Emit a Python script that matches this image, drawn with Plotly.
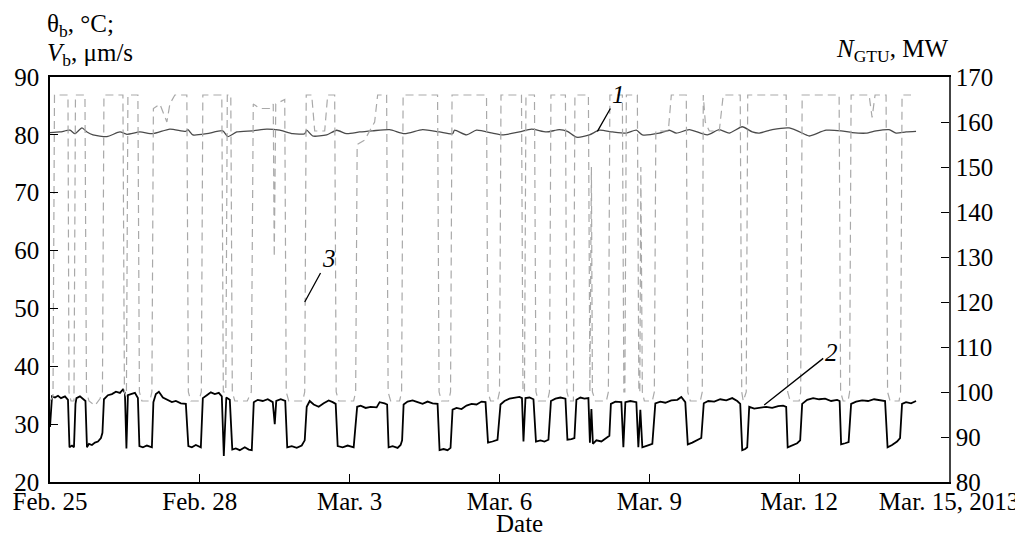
import numpy as np
import pandas as pd
import plotly.graph_objects as go

BASE = pd.Timestamp("2013-02-25")

# ---- Data (days since Feb 25, 2013 00:00, value) ----
theta_points = [
    (0.00, 80.4), (0.20, 80.5), (0.40, 80.8), (0.50, 80.2), (0.64, 81.2), (0.74, 80.5),
    (0.86, 80.0), (1.14, 79.7), (1.40, 80.5), (1.54, 80.1), (1.80, 80.5), (2.06, 80.2),
    (2.40, 81.0), (2.72, 80.6), (2.76, 80.9), (2.86, 80.0), (3.14, 80.2), (3.46, 80.7),
    (3.56, 79.7), (3.74, 80.5), (4.06, 80.7), (4.34, 81.0), (4.60, 80.8), (4.86, 80.2),
    (5.10, 80.2), (5.14, 80.8), (5.26, 79.8), (5.54, 80.0), (5.74, 80.8), (5.94, 80.2),
    (6.20, 80.5), (6.46, 80.7), (6.80, 80.9), (7.10, 80.2), (7.46, 80.9), (7.80, 80.5),
    (8.06, 80.2), (8.10, 80.8), (8.34, 80.0), (8.54, 80.8), (8.86, 80.3), (9.06, 80.0),
    (9.40, 80.5), (9.64, 81.0), (9.94, 80.5), (10.20, 80.9), (10.36, 80.6), (10.54, 79.6),
    (10.80, 80.0), (11.00, 80.8), (11.26, 80.5), (11.54, 80.3), (11.74, 80.8), (11.86, 80.0),
    (12.20, 80.3), (12.40, 80.8), (12.54, 80.3), (12.80, 80.9), (13.16, 80.0), (13.40, 80.9),
    (13.60, 80.3), (13.86, 81.4), (14.06, 80.5), (14.20, 80.3), (14.46, 80.9), (14.80, 81.2),
    (15.14, 80.0), (15.20, 79.8), (15.54, 80.8), (15.84, 80.7), (16.06, 80.4), (16.34, 80.3),
    (16.54, 80.7), (16.80, 80.9), (16.94, 80.3), (17.14, 80.5), (17.34, 80.6),
]

vb_points = [
    (0.00, 29.5), (0.02, 33.0), (0.04, 34.8), (0.10, 34.6), (0.16, 34.9), (0.22, 34.5), (0.30, 34.8), (0.36, 34.2),
    (0.39, 26.0), (0.44, 26.3), (0.48, 26.0), (0.51, 33.5), (0.53, 34.5), (0.60, 34.8), (0.66, 34.4), (0.71, 34.0),
    (0.74, 26.0), (0.78, 26.6), (0.84, 26.4), (0.90, 26.8), (0.96, 27.0), (1.02, 27.6), (1.05, 28.5), (1.08, 34.3),
    (1.16, 35.0), (1.24, 35.2), (1.32, 35.6), (1.40, 35.4), (1.46, 36.0), (1.50, 35.4),
    (1.53, 25.8), (1.56, 35.0), (1.62, 35.2), (1.70, 35.4), (1.76, 34.5),
    (1.79, 26.2), (1.86, 26.0), (1.94, 26.3), (2.04, 26.0), (2.07, 33.8), (2.12, 35.2), (2.18, 35.6), (2.26, 34.6),
    (2.34, 34.2), (2.44, 33.8), (2.52, 34.0), (2.62, 33.6), (2.72, 33.5),
    (2.77, 26.2), (2.84, 26.0), (2.92, 26.4), (3.02, 26.0), (3.06, 34.5), (3.14, 35.0), (3.22, 35.5), (3.30, 35.2),
    (3.38, 35.4), (3.44, 34.8),
    (3.48, 24.5), (3.53, 34.6), (3.60, 34.2),
    (3.65, 25.6), (3.72, 25.8), (3.80, 25.5), (3.90, 26.0), (3.98, 25.6), (4.04, 25.5), (4.08, 33.8), (4.16, 34.2),
    (4.26, 34.0), (4.36, 34.3), (4.46, 33.8),
    (4.50, 30.0), (4.53, 34.0), (4.62, 34.3), (4.71, 34.0),
    (4.75, 26.0), (4.84, 26.2), (4.94, 25.9), (5.04, 26.3), (5.10, 27.2), (5.14, 33.0), (5.20, 34.0), (5.28, 33.4),
    (5.38, 33.0), (5.48, 33.6), (5.58, 34.1), (5.66, 33.8), (5.72, 33.5),
    (5.76, 26.2), (5.86, 26.0), (5.96, 26.3), (6.08, 26.0), (6.15, 33.0), (6.22, 33.2), (6.32, 32.8), (6.42, 33.0),
    (6.54, 32.9), (6.60, 33.8), (6.70, 33.6), (6.75, 33.4),
    (6.78, 26.0), (6.86, 26.2), (6.96, 25.9), (7.02, 26.4), (7.05, 27.2), (7.08, 33.4), (7.16, 33.9), (7.26, 34.1),
    (7.36, 33.8), (7.46, 33.5), (7.56, 33.9), (7.66, 33.6), (7.76, 33.5),
    (7.80, 25.5), (7.88, 25.7), (7.96, 25.5), (8.02, 25.9), (8.06, 32.5), (8.14, 32.8), (8.24, 32.6), (8.34, 33.2),
    (8.44, 33.5), (8.54, 33.4), (8.64, 33.9), (8.72, 33.8),
    (8.77, 26.8), (8.86, 27.0), (8.96, 27.3), (9.02, 33.4), (9.10, 34.0), (9.20, 34.4), (9.30, 34.5), (9.40, 34.7),
    (9.45, 34.5),
    (9.48, 27.0), (9.52, 34.5), (9.60, 34.6), (9.68, 34.3),
    (9.73, 27.0), (9.82, 27.2), (9.90, 27.0), (9.98, 27.3), (10.03, 34.0), (10.12, 34.4), (10.22, 34.6), (10.32, 34.4),
    (10.36, 27.3), (10.44, 27.4), (10.50, 27.6), (10.54, 34.2), (10.62, 34.6), (10.70, 34.4), (10.78, 34.5),
    (10.81, 26.8), (10.84, 32.6), (10.87, 26.6), (10.94, 27.2), (11.04, 27.0), (11.14, 27.6), (11.20, 28.0),
    (11.23, 33.5), (11.32, 33.9), (11.44, 33.8),
    (11.48, 26.0), (11.52, 33.8), (11.62, 34.0), (11.74, 33.8),
    (11.78, 26.0), (11.82, 32.5), (11.86, 26.0), (11.96, 26.3), (12.06, 26.6), (12.12, 33.6), (12.22, 33.9),
    (12.32, 33.7), (12.44, 34.1), (12.56, 34.2), (12.64, 34.7), (12.72, 33.8),
    (12.77, 26.5), (12.86, 26.8), (12.96, 27.2), (13.04, 27.6), (13.09, 33.6), (13.18, 34.0), (13.30, 33.9),
    (13.42, 34.3), (13.54, 34.1), (13.66, 34.5), (13.76, 34.0), (13.82, 33.5),
    (13.86, 25.5), (13.92, 25.7), (13.96, 26.0), (14.00, 33.0), (14.10, 32.7), (14.22, 32.9), (14.34, 33.0),
    (14.46, 32.8), (14.58, 33.1), (14.68, 33.2), (14.74, 33.0),
    (14.77, 26.0), (14.86, 26.3), (14.96, 26.7), (15.02, 27.2), (15.06, 33.5), (15.16, 34.2), (15.28, 34.5),
    (15.40, 34.3), (15.52, 34.4), (15.64, 34.0), (15.76, 34.2), (15.81, 34.0),
    (15.84, 26.5), (15.92, 26.7), (15.99, 26.9), (16.04, 33.5), (16.14, 33.9), (16.26, 34.1), (16.38, 34.0),
    (16.50, 34.3), (16.62, 34.1), (16.72, 34.0),
    (16.77, 26.0), (16.86, 26.4), (16.96, 27.0), (17.02, 27.6), (17.06, 33.5), (17.14, 33.8), (17.24, 33.6),
    (17.34, 34.0),
]

ngtu_points = [
    (0.00, 98), (0.06, 99), (0.09, 166), (0.36, 166), (0.38, 100), (0.42, 98), (0.48, 98), (0.51, 166),
    (0.70, 166), (0.73, 100), (0.78, 98), (0.90, 97), (1.00, 98.5), (1.05, 100), (1.08, 166),
    (1.46, 166), (1.49, 100), (1.53, 99), (1.56, 166), (1.76, 166), (1.79, 100), (1.84, 98), (2.00, 98),
    (2.04, 100), (2.07, 163), (2.20, 164), (2.34, 160), (2.40, 164), (2.50, 166), (2.74, 166),
    (2.77, 100), (2.82, 98), (2.98, 98), (3.03, 100), (3.06, 166), (3.44, 166), (3.47, 100), (3.52, 100),
    (3.55, 166), (3.62, 166), (3.65, 100), (3.70, 98), (3.95, 98), (4.03, 100), (4.07, 164), (4.20, 163),
    (4.40, 163), (4.47, 164), (4.49, 130), (4.52, 164), (4.70, 165), (4.73, 100), (4.78, 98), (5.06, 98),
    (5.10, 100), (5.13, 166), (5.24, 166), (5.30, 158), (5.50, 158), (5.56, 166), (5.70, 166),
    (5.73, 100), (5.78, 98), (6.08, 98), (6.12, 100), (6.15, 155), (6.30, 156), (6.50, 160), (6.56, 166),
    (6.74, 166), (6.77, 100), (6.82, 98), (7.00, 98), (7.04, 100), (7.07, 166), (7.76, 166), (7.79, 100),
    (7.84, 98), (7.98, 98), (8.02, 100), (8.05, 166), (8.74, 166), (8.77, 100), (8.82, 98), (8.96, 98),
    (9.00, 100), (9.03, 166), (9.44, 166), (9.47, 100), (9.50, 100), (9.53, 166), (9.70, 166), (9.73, 100),
    (9.78, 98), (9.96, 98), (10.00, 100), (10.03, 166), (10.32, 166), (10.35, 100), (10.40, 98),
    (10.48, 98), (10.51, 166), (10.78, 166), (10.81, 100), (10.84, 150), (10.86, 100), (10.92, 98),
    (11.14, 98), (11.18, 100), (11.21, 166), (11.46, 166), (11.49, 100), (11.51, 100), (11.54, 166),
    (11.76, 166), (11.79, 100), (11.81, 100), (11.83, 150), (11.86, 100), (11.90, 98), (12.06, 98),
    (12.10, 100), (12.13, 158), (12.38, 158), (12.44, 166), (12.74, 166), (12.77, 100), (12.82, 98),
    (13.02, 98), (13.06, 100), (13.08, 166), (13.12, 160), (13.20, 158), (13.40, 158), (13.48, 166),
    (13.82, 166), (13.85, 100), (13.88, 98), (13.94, 100), (13.97, 166), (14.74, 166), (14.77, 100),
    (14.82, 98), (15.00, 98), (15.03, 100), (15.06, 166), (15.80, 166), (15.83, 100), (15.88, 98),
    (15.98, 98), (16.01, 100), (16.04, 166), (16.40, 166), (16.46, 161), (16.52, 166), (16.74, 166),
    (16.77, 100), (16.82, 98), (17.00, 98), (17.03, 100), (17.06, 166), (17.24, 166),
]

tick_days = [0, 3, 6, 9, 12, 15, 18]
tick_labels = ["Feb. 25", "Feb. 28", "Mar. 3", "Mar. 6", "Mar. 9", "Mar. 12", "Mar. 15, 2013"]


def to_xy(points):
    d, v = zip(*points)
    return BASE + pd.to_timedelta(np.array(d), unit="D"), list(v)


FONT = "Liberation Serif, Times New Roman, serif"
FS = 25

tx, ty = to_xy(theta_points)
vx, vy = to_xy(vb_points)
nx, ny = to_xy(ngtu_points)

fig = go.Figure()
fig.add_trace(go.Scatter(x=nx, y=ny, mode="lines", yaxis="y2",
                         line=dict(color="#a9a9a9", width=1.2, dash="8px,5px")))
fig.add_trace(go.Scatter(x=tx, y=ty, mode="lines",
                         line=dict(color="#4a4a4a", width=1.3, shape="spline", smoothing=0.6)))
fig.add_trace(go.Scatter(x=vx, y=vy, mode="lines",
                         line=dict(color="#000000", width=1.8)))

tickvals = [BASE + pd.Timedelta(days=d) for d in tick_days]

# page body has an 8px default margin: figure placed at (8, 8)
fig.update_layout(
    width=1015, height=533,
    margin=dict(l=42, r=74, t=69, b=59),
    paper_bgcolor="white", plot_bgcolor="white",
    showlegend=False,
    font=dict(family=FONT, size=FS, color="black"),
    xaxis=dict(
        range=[BASE, BASE + pd.Timedelta(days=18)],
        tickvals=tickvals, ticktext=tick_labels,
        ticks="inside", ticklen=8, tickwidth=1.2, tickcolor="black",
        showline=True, linecolor="black", linewidth=1.5, mirror=True,
        showgrid=False, zeroline=False, automargin=False,
        tickfont=dict(family=FONT, size=FS), ticklabelstandoff=-4,
        ticklabeloverflow="allow",
    ),
    yaxis=dict(
        range=[20, 90], dtick=10, tick0=20,
        ticks="inside", ticklen=8, tickwidth=1.2, tickcolor="black",
        showline=True, linecolor="black", linewidth=1.5, mirror=True,
        showgrid=False, zeroline=False, automargin=False,
        tickfont=dict(family=FONT, size=FS), ticklabeloverflow="allow",
        ticklabelstandoff=4,
    ),
    yaxis2=dict(
        range=[80, 170], dtick=10, tick0=80,
        overlaying="y", side="right",
        ticks="inside", ticklen=8, tickwidth=1.2, tickcolor="black",
        showline=True, linecolor="#444", linewidth=1.5,
        showgrid=False, zeroline=False, automargin=False,
        tickfont=dict(family=FONT, size=FS), ticklabeloverflow="allow",
    ),
)

ann_font = dict(family=FONT, size=FS, color="black")
annotations = [
    dict(text="θ<sub>b</sub>, °C;", xref="paper", yref="paper", x=0.0, y=1.0, yshift=52, xshift=-5,
         xanchor="left", yanchor="middle", showarrow=False, font=ann_font),
    dict(text="<i>V</i><sub>b</sub>, μm/s", xref="paper", yref="paper", x=0.0, y=1.0, yshift=23, xshift=-5,
         xanchor="left", yanchor="middle", showarrow=False, font=ann_font),
    dict(text="<i>N</i><sub>GTU</sub>, MW", xref="paper", yref="paper", x=1.0, y=1.0, yshift=27, xshift=1,
         xanchor="right", yanchor="middle", showarrow=False, font=ann_font),
    dict(text="Date", xref="paper", yref="paper", x=0.522, y=0, yshift=-41,
         xanchor="center", yanchor="middle", showarrow=False, font=ann_font),
    dict(text="<i>1</i>", xref="x", yref="y", x=BASE + pd.Timedelta(days=10.96), y=80.6,
         ax=21, ay=-37, showarrow=True, arrowhead=0, arrowwidth=1.3, arrowcolor="black",
         font=ann_font),
    dict(text="<i>2</i>", xref="x", yref="y", x=BASE + pd.Timedelta(days=14.30), y=33.3,
         ax=67, ay=-53, showarrow=True, arrowhead=0, arrowwidth=1.3, arrowcolor="black",
         font=ann_font),
    dict(text="<i>3</i>", xref="x", yref="y", x=BASE + pd.Timedelta(days=5.10), y=51.1,
         ax=24, ay=-44, showarrow=True, arrowhead=0, arrowwidth=1.3, arrowcolor="black",
         font=ann_font),
]
fig.update_layout(annotations=annotations)

fig.write_html("out.html")
